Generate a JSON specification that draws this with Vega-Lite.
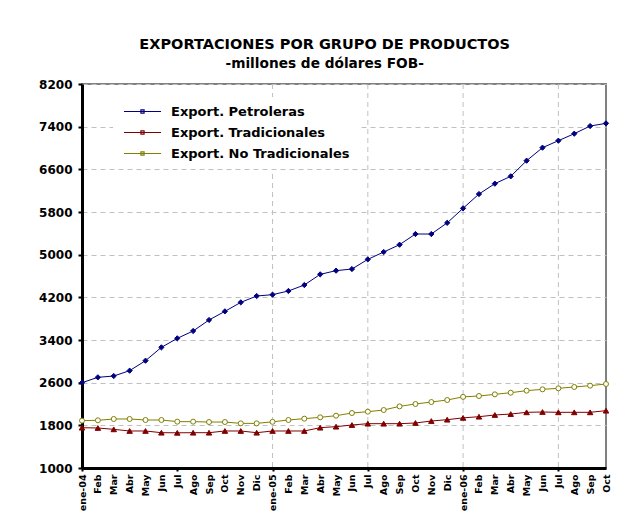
{
  "$schema": "https://vega.github.io/schema/vega-lite/v6.json",
  "width": 524,
  "height": 384,
  "autosize": {"type": "none"},
  "padding": {"left": 82, "top": 84, "right": 21, "bottom": 49},
  "background": "white",
  "title": {
    "text": "EXPORTACIONES POR GRUPO DE PRODUCTOS",
    "subtitle": "-millones de dólares FOB-",
    "anchor": "middle",
    "frame": "bounds",
    "font": "DejaVu Sans",
    "fontSize": 14.5,
    "fontWeight": "bold",
    "color": "black",
    "subtitleFont": "DejaVu Sans",
    "subtitleFontSize": 13.7,
    "subtitleFontWeight": "bold",
    "subtitleColor": "black",
    "subtitlePadding": 5,
    "offset": 6
  },
  "data": {
    "values": [
      {"mes": "ene-04", "Petroleras": 2600, "Tradicionales": 1756, "No Tradicionales": 1888},
      {"mes": "Feb-04", "Petroleras": 2700, "Tradicionales": 1750, "No Tradicionales": 1894},
      {"mes": "Mar-04", "Petroleras": 2725, "Tradicionales": 1725, "No Tradicionales": 1919},
      {"mes": "Abr-04", "Petroleras": 2825, "Tradicionales": 1694, "No Tradicionales": 1919},
      {"mes": "May-04", "Petroleras": 3012, "Tradicionales": 1694, "No Tradicionales": 1900},
      {"mes": "Jun-04", "Petroleras": 3262, "Tradicionales": 1662, "No Tradicionales": 1900},
      {"mes": "Jul-04", "Petroleras": 3431, "Tradicionales": 1660, "No Tradicionales": 1869},
      {"mes": "Ago-04", "Petroleras": 3569, "Tradicionales": 1662, "No Tradicionales": 1869},
      {"mes": "Sep-04", "Petroleras": 3775, "Tradicionales": 1662, "No Tradicionales": 1862},
      {"mes": "Oct-04", "Petroleras": 3937, "Tradicionales": 1694, "No Tradicionales": 1862},
      {"mes": "Nov-04", "Petroleras": 4106, "Tradicionales": 1694, "No Tradicionales": 1837},
      {"mes": "Dic-04", "Petroleras": 4225, "Tradicionales": 1662, "No Tradicionales": 1837},
      {"mes": "ene-05", "Petroleras": 4250, "Tradicionales": 1694, "No Tradicionales": 1866},
      {"mes": "Feb-05", "Petroleras": 4319, "Tradicionales": 1694, "No Tradicionales": 1900},
      {"mes": "Mar-05", "Petroleras": 4431, "Tradicionales": 1694, "No Tradicionales": 1925},
      {"mes": "Abr-05", "Petroleras": 4631, "Tradicionales": 1756, "No Tradicionales": 1950},
      {"mes": "May-05", "Petroleras": 4700, "Tradicionales": 1775, "No Tradicionales": 1981},
      {"mes": "Jun-05", "Petroleras": 4731, "Tradicionales": 1806, "No Tradicionales": 2031},
      {"mes": "Jul-05", "Petroleras": 4912, "Tradicionales": 1831, "No Tradicionales": 2056},
      {"mes": "Ago-05", "Petroleras": 5050, "Tradicionales": 1831, "No Tradicionales": 2087},
      {"mes": "Sep-05", "Petroleras": 5187, "Tradicionales": 1831, "No Tradicionales": 2156},
      {"mes": "Oct-05", "Petroleras": 5387, "Tradicionales": 1844, "No Tradicionales": 2200},
      {"mes": "Nov-05", "Petroleras": 5387, "Tradicionales": 1881, "No Tradicionales": 2237},
      {"mes": "Dic-05", "Petroleras": 5597, "Tradicionales": 1906, "No Tradicionales": 2275},
      {"mes": "ene-06", "Petroleras": 5869, "Tradicionales": 1940, "No Tradicionales": 2334},
      {"mes": "Feb-06", "Petroleras": 6137, "Tradicionales": 1962, "No Tradicionales": 2350},
      {"mes": "Mar-06", "Petroleras": 6331, "Tradicionales": 1994, "No Tradicionales": 2381},
      {"mes": "Abr-06", "Petroleras": 6469, "Tradicionales": 2012, "No Tradicionales": 2412},
      {"mes": "May-06", "Petroleras": 6762, "Tradicionales": 2044, "No Tradicionales": 2450},
      {"mes": "Jun-06", "Petroleras": 7006, "Tradicionales": 2050, "No Tradicionales": 2475},
      {"mes": "Jul-06", "Petroleras": 7137, "Tradicionales": 2044, "No Tradicionales": 2494},
      {"mes": "Ago-06", "Petroleras": 7268, "Tradicionales": 2044, "No Tradicionales": 2519},
      {"mes": "Sep-06", "Petroleras": 7412, "Tradicionales": 2044, "No Tradicionales": 2544},
      {"mes": "Oct-06", "Petroleras": 7462, "Tradicionales": 2075, "No Tradicionales": 2575}
    ]
  },
  "encoding": {
    "x": {
      "field": "mes",
      "type": "ordinal",
      "sort": null,
      "scale": {
        "type": "point",
        "padding": 0,
        "domain": ["ene-04","Feb-04","Mar-04","Abr-04","May-04","Jun-04","Jul-04","Ago-04","Sep-04","Oct-04","Nov-04","Dic-04","ene-05","Feb-05","Mar-05","Abr-05","May-05","Jun-05","Jul-05","Ago-05","Sep-05","Oct-05","Nov-05","Dic-05","ene-06","Feb-06","Mar-06","Abr-06","May-06","Jun-06","Jul-06","Ago-06","Sep-06","Oct-06"]
      },
      "axis": {
        "title": null,
        "labelAngle": -90,
        "labelExpr": "indexof(datum.value, 'ene') == 0 ? datum.value : slice(datum.value, 0, 3)",
        "labelFont": "DejaVu Sans",
        "labelFontSize": 9.5,
        "labelFontWeight": "bold",
        "labelColor": "black",
        "labelPadding": 3,
        "labelOverlap": false,
        "tickSize": 3,
        "tickWidth": 2,
        "tickColor": "black",
        "tickOpacity": {"condition": {"test": "indexof(['ene-04','Jul-04','ene-05','Jul-05','ene-06','Jul-06'], datum.value) >= 0", "value": 1}, "value": 0},
        "domainColor": "black",
        "domainWidth": 3,
        "grid": false
      }
    }
  },
  "layer": [
    {
      "transform": [{"filter": "indexof(['ene-05','Jul-05','ene-06','Jul-06'], datum.mes) >= 0"}],
      "mark": {"type": "rule", "color": "#c0c0c0", "strokeWidth": 1, "strokeDash": [5, 4]},
      "encoding": {}
    },
    {
      "transform": [{"fold": ["Petroleras", "Tradicionales", "No Tradicionales"], "as": ["serie", "valor"]}],
      "encoding": {
        "y": {
          "field": "valor",
          "type": "quantitative",
          "scale": {"domain": [1000, 8200], "nice": false, "zero": false},
          "axis": {
            "title": null,
            "values": [1000, 1800, 2600, 3400, 4200, 5000, 5800, 6600, 7400, 8200],
            "format": "d",
            "labelFont": "DejaVu Sans",
            "labelFontSize": 12,
            "labelFontWeight": "bold",
            "labelColor": "black",
            "labelPadding": 6,
            "tickColor": "black",
            "tickSize": 4,
            "tickWidth": 2,
            "domainColor": "black",
            "domainWidth": 3,
            "grid": true,
            "gridColor": "#c0c0c0",
            "gridDash": [5, 4],
            "gridWidth": 1
          }
        }
      },
      "layer": [
        {
          "mark": {"type": "line", "strokeWidth": 1},
          "encoding": {
            "stroke": {
              "field": "serie",
              "type": "nominal",
              "scale": {"domain": ["Petroleras", "Tradicionales", "No Tradicionales"], "range": ["#000080", "#800000", "#808000"]},
              "legend": {
                "title": null,
                "orient": "none",
                "legendX": 31,
                "legendY": 13,
                "fillColor": "white",
                "padding": 8,
                "rowPadding": 7,
                "symbolType": "M-5.3,0H5.3M-0.45,-0.45H0.45V0.45H-0.45Z",
                "symbolSize": 49,
                "symbolStrokeWidth": 1.2,
                "symbolOffset": 15,
                "labelOffset": 22,
                "labelLimit": 0,
                "labelFont": "DejaVu Sans",
                "labelFontSize": 13,
                "labelFontWeight": "bold",
                "labelColor": "black",
                "labelExpr": "'Export. ' + datum.label"
              }
            }
          }
        },
        {
          "mark": {"type": "point", "strokeWidth": 1, "opacity": 1},
          "encoding": {
            "stroke": {"field": "serie", "type": "nominal", "scale": {"domain": ["No Tradicionales", "Petroleras", "Tradicionales"], "range": ["#808000", "#000080", "#800000"]}, "legend": null},
            "fill": {"field": "serie", "type": "nominal", "scale": {"domain": ["No Tradicionales", "Petroleras", "Tradicionales"], "range": ["#ffffff", "#000080", "#800000"]}, "legend": null},
            "shape": {"field": "serie", "type": "nominal", "scale": {"domain": ["No Tradicionales", "Petroleras", "Tradicionales"], "range": ["circle", "diamond", "triangle-up"]}, "legend": null},
            "size": {"field": "serie", "type": "nominal", "scale": {"domain": ["No Tradicionales", "Petroleras", "Tradicionales"], "range": [25, 30, 20]}, "legend": null}
          }
        }
      ],
      "resolve": {"scale": {"stroke": "independent"}}
    }
  ],
  "config": {
    "font": "DejaVu Sans",
    "view": {"stroke": "#808080", "strokeWidth": 2}
  }
}
